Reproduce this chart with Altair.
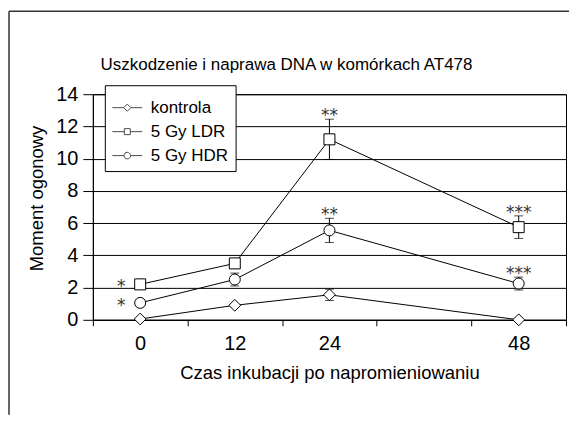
import altair as alt
import pandas as pd

hours = [0, 12, 24, 48]
series_names = ["kontrola", "5 Gy LDR", "5 Gy HDR"]
kontrola = [0.05, 0.9, 1.55, 0.0]
kontrola_err = [0.0, 0.0, 0.35, 0.0]
ldr = [2.2, 3.5, 11.2, 5.75]
ldr_err = [0.0, 0.3, 1.25, 0.7]
hdr = [1.05, 2.5, 5.55, 2.25]
hdr_err = [0.0, 0.4, 0.75, 0.4]
ldr_sig = ["*", "", "**", "***"]
hdr_sig = ["*", "", "**", "***"]
kontrola_sig = ["", "", "", ""]

title_text = "Uszkodzenie i naprawa DNA w komórkach AT478"
x_title = "Czas inkubacji po napromieniowaniu"
y_title = "Moment ogonowy"

FONT = "Liberation Sans"

rows = []
for name, vals, errs, sigs in [
    (series_names[0], kontrola, kontrola_err, kontrola_sig),
    (series_names[1], ldr, ldr_err, ldr_sig),
    (series_names[2], hdr, hdr_err, hdr_sig),
]:
    for h, v, e, s in zip(hours, vals, errs, sigs):
        rows.append({"series": name, "h": h, "v": v, "err": e,
                     "lo": v - e, "hi": v + e, "sig": s})
df = pd.DataFrame(rows)

xscale = alt.Scale(domain=[-6, 54], nice=False, zero=False)
yscale = alt.Scale(domain=[0, 14], nice=False)

xaxis = alt.Axis(
    values=[-6, 0, 6, 12, 18, 24, 30, 42, 48, 54],
    labelExpr="datum.value % 12 == 0 ? datum.label : ''",
    tickOpacity={"condition": {"test": "datum.value % 12 != 0", "value": 1}, "value": 0},
    tickSize=6, tickColor="black", domainColor="black", grid=False,
    labelFont=FONT, labelFontSize=20, labelColor="black", labelPadding=8,
    title=x_title, titleFont=FONT, titleFontSize=18.5, titleFontWeight="normal",
    titleColor="black", titlePadding=10, labelOverlap=False,
)
yaxis = alt.Axis(
    values=[0, 2, 4, 6, 8, 10, 12, 14], tickSize=10, tickColor="black",
    domainColor="black", grid=True, gridColor="black", gridOpacity=1,
    labelFont=FONT, labelFontSize=20, labelColor="black", labelPadding=5,
    labelOverlap=False,
    title=y_title, titleFont=FONT, titleFontSize=18.5, titleFontWeight="normal",
    titleColor="black", titlePadding=9, titleY=104,
)

base = alt.Chart(df)
X = alt.X("h:Q", scale=xscale, axis=xaxis)


def Yf(f):
    return alt.Y(f, scale=yscale, axis=yaxis)


lines = base.mark_line(color="black", strokeWidth=1).encode(
    x=X, y=Yf("v:Q"), detail="series:N")

errdf = base.transform_filter("datum.err > 0")
err_rule = errdf.mark_rule(color="black", strokeWidth=1).encode(
    x=X, y=Yf("lo:Q"), y2="hi:Q")
cap_hi = errdf.mark_tick(color="black", orient="horizontal", size=9, thickness=1).encode(
    x=X, y=Yf("hi:Q"))
cap_lo = errdf.mark_tick(color="black", orient="horizontal", size=9, thickness=1).encode(
    x=X, y=Yf("lo:Q"))

shapes = {series_names[0]: ("diamond", 140), series_names[1]: ("square", 121),
          series_names[2]: ("circle", 121)}
pts = []
for name in series_names:
    shp, sz = shapes[name]
    pts.append(
        base.transform_filter(alt.datum.series == name).mark_point(
            shape=shp, size=sz, filled=True, fill="white", stroke="black",
            strokeWidth=1, opacity=1).encode(x=X, y=Yf("v:Q")))

legend_paths = [
    "M-1,0H-0.24M0.24,0H1M-0.24,0L0,-0.24L0.24,0L0,0.24Z",
    "M-1,0H-0.2M0.2,0H1M-0.2,-0.2H0.2V0.2H-0.2Z",
    "M-1,0H-0.22M0.22,0H1M-0.22,0A0.22,0.22 0 1,1 0.22,0A0.22,0.22 0 1,1 -0.22,0Z",
]
legend_layer = base.transform_calculate(yy="-5").mark_point(
    clip=True, filled=False, stroke="black", strokeWidth=1).encode(
    x=X,
    y=Yf("yy:Q"),
    shape=alt.Shape("series:N", scale=alt.Scale(domain=series_names, range=legend_paths),
                    sort=series_names,
                    legend=alt.Legend(
                        title=None, orient="none", legendX=12, legendY=-9,
                        fillColor="white", strokeColor="black", padding=7,
                        symbolSize=900, symbolStrokeColor="black", symbolStrokeWidth=1,
                        symbolFillColor="white", rowPadding=0, labelOffset=8,
                        labelFont=FONT, labelFontSize=17, labelColor="black")),
)

sig_top = base.transform_filter("datum.sig != '' && datum.h > 0").mark_text(
    font="DejaVu Sans", fontSize=17, baseline="alphabetic", align="center", dy=2,
    color="#333").encode(x=X, y=Yf("hi:Q"), text="sig:N")
sig_left = base.transform_filter("datum.sig != '' && datum.h == 0").mark_text(
    font="DejaVu Sans", fontSize=17, baseline="alphabetic", align="center", dx=-19, dy=8,
    color="#333").encode(x=X, y=Yf("v:Q"), text="sig:N")

one = alt.Chart(pd.DataFrame({"t": [title_text]}))
title_mark = one.mark_text(font=FONT, fontSize=17, align="center",
                           baseline="alphabetic", color="black").encode(
    x=alt.value(194), y=alt.value(-24.5), text="t:N")
frame_top = one.mark_rule(color="#333", strokeWidth=1.5).encode(
    x=alt.value(-84), x2=alt.value(477), y=alt.value(-83))
frame_left = one.mark_rule(color="#333", strokeWidth=1.5).encode(
    x=alt.value(-84), y=alt.value(-83), y2=alt.value(321))

chart = alt.layer(
    lines, frame_top, frame_left, title_mark, err_rule, cap_hi, cap_lo,
    *pts, legend_layer, sig_top, sig_left,
).properties(
    width=474, height=226,
    padding={"left": 0, "top": 2, "right": 0, "bottom": 0},
).configure(background="white").configure_view(stroke="black", strokeWidth=1)

chart.save("out.html", embed_options={"renderer": "svg", "actions": False})
